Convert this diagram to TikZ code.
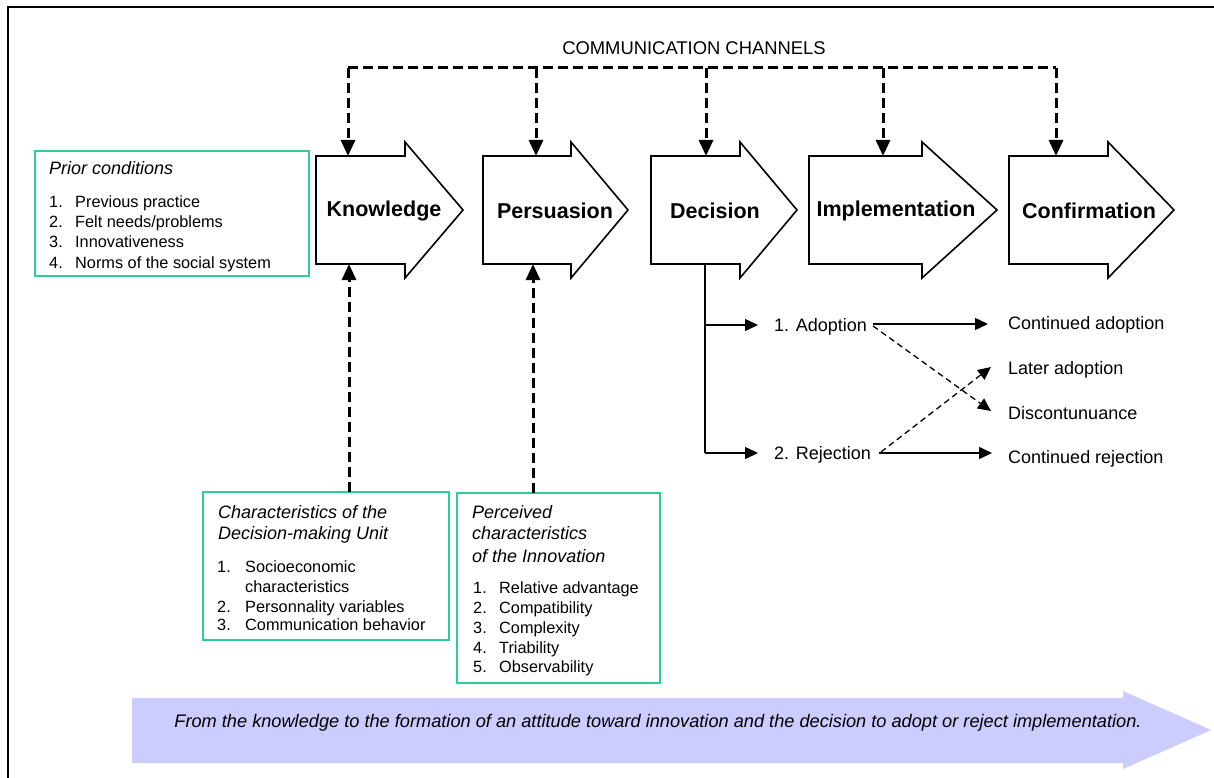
\documentclass[tikz,border=0pt]{standalone}
\usepackage{fontspec}
\setmainfont{Liberation Sans}
\usetikzlibrary{arrows.meta}
\definecolor{boxgreen}{RGB}{46,204,153}
\definecolor{lav}{RGB}{204,204,255}
\newcommand\stagearrow[3]{\draw[stage] (#1,156) -- (#2,156) -- (#2,142) -- (#3,210) -- (#2,278) -- (#2,264) -- (#1,264) -- cycle;}
\begin{document}
\begin{tikzpicture}[x=1pt,y=-1pt,
  stage/.style={draw=black,line width=1.6pt,fill=white,line join=miter},
  lbl/.style={font=\fontsize{21.5}{24}\selectfont\bfseries,inner sep=0},
  txt/.style={font=\fontsize{16.3}{20}\selectfont,inner sep=0,anchor=west,text height=11.7pt,text depth=0pt},
  ttl/.style={font=\fontsize{18}{22}\selectfont\itshape,inner sep=0,anchor=west,text height=12.9pt,text depth=0pt},
  tree/.style={font=\fontsize{18}{22}\selectfont,inner sep=0,anchor=west,text height=12.9pt,text depth=0pt},
  cbox/.style={draw=boxgreen,line width=2pt},
  chan/.style={line width=3pt,dash pattern=on 10pt off 5pt},
  chanarr/.style={chan,-{Triangle[length=16pt,width=14pt]}},
  tarr/.style={line width=1.5pt,-{Triangle[length=13pt,width=12pt]}},
  darr/.style={line width=1.3pt,dash pattern=on 6pt off 4pt,-{Triangle[length=13pt,width=12pt]}},
]
\useasboundingbox (0,0) rectangle (1214,778);
\fill[white] (0,0) rectangle (1214,778);
% frame
\draw[line width=2pt] (1214,7) -- (8,7) -- (8,778);

% communication channels
\node[font=\fontsize{18.4}{22}\selectfont,inner sep=0] (comm) at (694,48) {COMMUNICATION CHANNELS};

% stage arrows
\stagearrow{316}{405}{463}
\stagearrow{483}{571}{628}
\stagearrow{651}{740}{797}
\stagearrow{809}{922}{997}
\stagearrow{1009}{1108}{1174}
\node[lbl] (know) at (384,211) {Knowledge};
\node[lbl] (pers) at (555,211) {Persuasion};
\node[lbl] (deci) at (715,211) {Decision};
\node[lbl] (impl) at (896,211) {Implementation};
\node[lbl] (conf) at (1089,211) {Confirmation};

% top / bottom attachment points
\coordinate (kTop) at (348,156);
\coordinate (pTop) at (536,156);
\coordinate (dTop) at (706,156);
\coordinate (iTop) at (883,156);
\coordinate (cTop) at (1056,156);
\coordinate (kBot) at (349,264);
\coordinate (pBot) at (533,264);
\coordinate (dBot) at (705,264);

\coordinate (ch1) at (348,68);
\coordinate (ch2) at (536,68);
\coordinate (ch3) at (706,68);
\coordinate (ch4) at (883,68);
\coordinate (ch5) at (1056,68);
\draw[chan] (ch1) -- (ch5);
\draw[chanarr] (ch1) -- (kTop);
\draw[chanarr] (ch2) -- (pTop);
\draw[chanarr] (ch3) -- (dTop);
\draw[chanarr] (ch4) -- (iTop);
\draw[chanarr] (ch5) -- (cTop);

% prior conditions
\draw[cbox] (35,151) rectangle (309,276);
\node[ttl] (pc) at (49,168) {Prior conditions};
\node[txt] at (49,202) {1.}; \node[txt] at (75,202) {Previous practice};
\node[txt] at (49,222) {2.}; \node[txt] at (75,222) {Felt needs/problems};
\node[txt] at (49,242) {3.}; \node[txt] at (75,242) {Innovativeness};
\node[txt] at (49,263) {4.}; \node[txt] at (75,263) {Norms of the social system};

% decision-making unit
\draw[cbox] (203,492) rectangle (449,640);
\coordinate (dmuTop) at (349,492);
\node[ttl] at (218,512) {Characteristics of the};
\node[ttl] at (218,533) {Decision-making Unit};
\node[txt] at (217,567) {1.}; \node[txt] at (245,567) {Socioeconomic};
\node[txt] at (245,587) {characteristics};
\node[txt] at (217,607) {2.}; \node[txt] at (245,607) {Personnality variables};
\node[txt] at (217,625) {3.}; \node[txt] at (245,625) {Communication behavior};
\draw[chanarr] (dmuTop) -- (kBot);

% perceived characteristics
\draw[cbox] (457,493) rectangle (660,683);
\coordinate (pciTop) at (533,493);
\node[ttl] at (472,512) {Perceived};
\node[ttl] at (472,533) {characteristics};
\node[ttl] at (472,556) {of the Innovation};
\node[txt] at (473,588) {1.}; \node[txt] at (499,588) {Relative advantage};
\node[txt] at (473,608) {2.}; \node[txt] at (499,608) {Compatibility};
\node[txt] at (473,628) {3.}; \node[txt] at (499,628) {Complexity};
\node[txt] at (473,648) {4.}; \node[txt] at (499,648) {Triability};
\node[txt] at (473,667) {5.}; \node[txt] at (499,667) {Observability};
\draw[chanarr] (pciTop) -- (pBot);

% decision tree
\node[tree] (adopt) at (774,325) {1. Adoption};
\node[tree] (reject) at (774,453) {2. Rejection};
\node[tree] (contad) at (1008,323) {Continued adoption};
\node[tree] (later) at (1008,368) {Later adoption};
\node[tree] (disc) at (1008,413) {Discontunuance};
\node[tree] (contrej) at (1008,457) {Continued rejection};
\coordinate (brA) at (705,325);
\coordinate (brR) at (705,453);
\coordinate (brAe) at (758,325);
\coordinate (brRe) at (758,453);
\draw[line width=1.5pt] (dBot) -- (brR);
\draw[tarr] (brA) -- (brAe);
\draw[tarr] (brR) -- (brRe);
\coordinate (aOut) at (873,324);
\coordinate (aOutE) at (988,324);
\coordinate (rOut) at (879,453);
\coordinate (rOutE) at (992,453);
\coordinate (aDash) at (873,326);
\coordinate (discIn) at (991,411);
\coordinate (rDash) at (881,452);
\coordinate (laterIn) at (991,367);
\draw[tarr] (aOut) -- (aOutE);
\draw[tarr] (rOut) -- (rOutE);
\draw[darr] (aDash) -- (discIn);
\draw[darr] (rDash) -- (laterIn);

% bottom arrow
\fill[lav] (132,698) -- (1123,698) -- (1123,691) -- (1211,730) -- (1123,769) -- (1123,763) -- (132,763) -- cycle;
\node[font=\fontsize{18.2}{22}\selectfont\itshape,inner sep=0] (bot) at (658,723) {From the knowledge to the formation of an attitude toward innovation and the decision to adopt or reject implementation.};
\end{tikzpicture}
\end{document}
